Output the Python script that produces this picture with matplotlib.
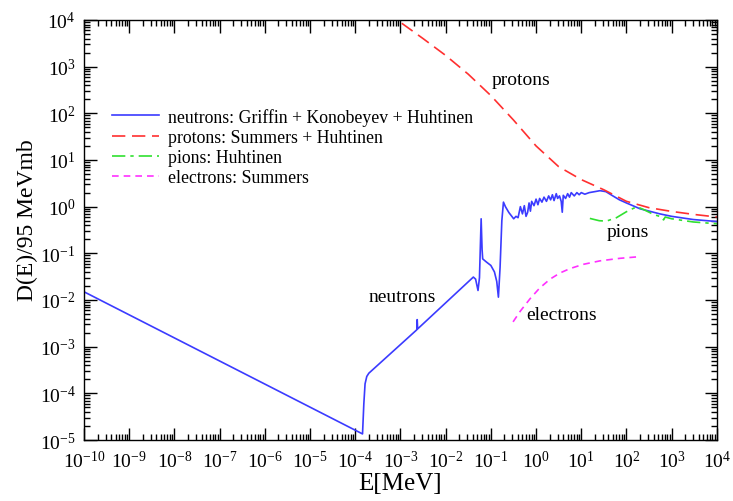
import matplotlib
matplotlib.use("Agg")
import matplotlib.pyplot as plt
import numpy as np
from matplotlib.ticker import LogLocator, NullFormatter

plt.rcParams["font.family"] = "serif"
plt.rcParams["font.serif"] = ["Liberation Serif", "DejaVu Serif"]
plt.rcParams["mathtext.fontset"] = "custom"
plt.rcParams["mathtext.rm"] = "Liberation Serif"
plt.rcParams["mathtext.it"] = "Liberation Serif:italic"

# neutrons: Griffin + Konobeyev + Huhtinen
neutron_E = [1e-10, 1.45e-4, 1.55e-4, 1.65e-4, 1.8e-4, 2.0e-4, 2.3e-3, 2.35e-3, 2.4e-3,
             0.041, 0.046, 0.052, 0.056, 0.061, 0.064, 0.066, 0.08, 0.1, 0.12, 0.135, 0.147,
             0.16, 0.175, 0.19, 0.21, 0.25, 0.32, 0.36, 0.4, 0.45, 0.5, 0.55, 0.6, 0.65, 0.7,
             0.75, 0.8, 0.9, 1.0, 1.1, 1.2, 1.35, 1.5, 1.7, 1.9, 2.1, 2.3, 2.5, 2.8, 3.0, 3.3,
             3.6, 3.8, 4.0, 4.5, 5.0, 5.5, 6.0, 7.0, 8.0, 9.0, 10, 12, 15, 20, 26, 35, 50, 70,
             100, 200, 550, 1000, 3000, 10000]
neutron_D = [1.5e-2, 1.35e-5, 6e-5, 1.6e-4, 2.3e-4, 2.7e-4, 2.3e-3, 3.8e-3, 2.4e-3,
             0.031, 0.028, 0.016, 0.03, 0.55, 0.12, 0.076, 0.065, 0.055, 0.04, 0.025, 0.0115,
             0.05, 0.5, 1.25, 1.0, 0.75, 0.55, 0.62, 0.58, 1.0, 0.7, 1.05, 0.62, 0.75, 1.2,
             0.8, 1.3, 1.05, 1.45, 1.1, 1.5, 1.25, 1.6, 1.3, 1.7, 1.4, 1.8, 1.35, 1.9, 1.5, 1.7,
             1.3, 0.76, 1.75, 1.5, 1.9, 1.6, 2.0, 1.7, 2.0, 1.8, 2.0, 1.85, 2.0, 2.1, 2.2, 2.1, 1.7, 1.4,
             1.2, 0.9, 0.7, 0.62, 0.53, 0.48]

# protons: Summers + Huhtinen
proton_E = [1.07e-3, 3.16e-3, 0.01, 0.0316, 0.1, 0.316, 1.0, 3.16, 10, 31.6, 100, 316,
            1000, 3160, 10000]
proton_D = [8500, 4000, 1740, 690, 240, 72, 20, 7.2, 3.8, 2.3, 1.3, 0.95,
            0.79, 0.68, 0.6]

# pions: Huhtinen
pion_E = [15.5, 25, 36, 60, 100, 170, 250, 400, 600, 660, 720, 1000, 3000, 10000]
pion_D = [0.56, 0.5, 0.49, 0.58, 0.78, 1.0, 0.85, 0.68, 0.6, 0.52, 0.6, 0.55, 0.47, 0.43]

# electrons: Summers
electron_E = [0.31, 0.45, 0.74, 1.2, 2.04, 3.4, 5.6, 11, 26, 70, 200]
electron_D = [0.0034, 0.0058, 0.0107, 0.018, 0.028, 0.038, 0.047, 0.058, 0.069, 0.078, 0.085]

# curve labels inside the plot
curve_labels = ["protons", "pions", "neutrons", "electrons"]
label_E = [0.47, 108, 1.07e-3, 3.7]
label_D = [520, 0.29, 0.0117, 0.0048]

fig = plt.figure(figsize=(7.33, 5.02), dpi=100)
ax = fig.add_axes([0.1146, 0.1215, 0.8634, 0.8367])

ax.plot(neutron_E, neutron_D, color="#3b3bff", lw=1.2,
        label="neutrons: Griffin + Konobeyev + Huhtinen")
ax.plot(proton_E, proton_D, color="#ff3030", lw=1.2, ls=(0, (8, 4)),
        label="protons: Summers + Huhtinen")
ax.plot(pion_E, pion_D, color="#30e030", lw=1.2, ls=(0, (8, 3, 2, 3)),
        label="pions: Huhtinen")
ax.plot(electron_E, electron_D, color="#ff30ff", lw=1.2, ls=(0, (4, 3)),
        label="electrons: Summers")

for txt, e, d in zip(curve_labels, label_E, label_D):
    ax.text(e, d, txt, fontsize=14, ha="center", va="center")

ax.set_xscale("log")
ax.set_yscale("log")
ax.set_xlim(1e-10, 1e4)
ax.set_ylim(1e-5, 1e4)

for axis in (ax.xaxis, ax.yaxis):
    axis.set_major_locator(LogLocator(base=10, numticks=30))
    axis.set_minor_locator(LogLocator(base=10, subs=np.arange(2, 10), numticks=30))
    axis.set_minor_formatter(NullFormatter())

ax.tick_params(which="both", direction="in", top=True, right=True, width=1.0)
ax.tick_params(which="major", length=9, labelsize=14)
ax.tick_params(which="minor", length=4.5)
ax.tick_params(axis="x", which="major", pad=7)
ax.tick_params(axis="y", which="major", pad=6)
for s in ax.spines.values():
    s.set_linewidth(1.0)

ax.set_xlabel("E[MeV]", fontsize=18, labelpad=1)
ax.set_ylabel("D(E)/95 MeVmb", fontsize=17)
ax.yaxis.set_label_coords(-0.072, 0.526)

ax.legend(loc="upper left", bbox_to_anchor=(0.045, 0.791), frameon=False, fontsize=12.8,
          handlelength=2.6, handletextpad=0.55, labelspacing=0.18, borderpad=0, borderaxespad=0)

fig.savefig("out.png", dpi=100)
